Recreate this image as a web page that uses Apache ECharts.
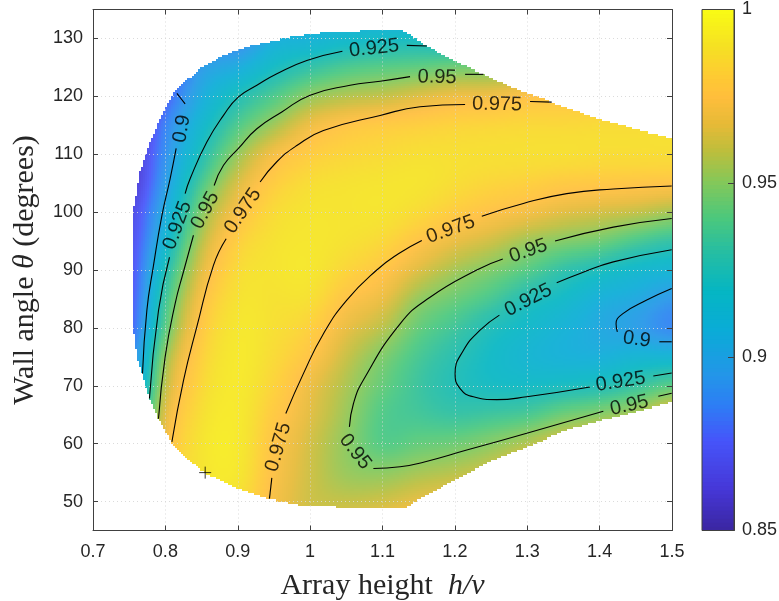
<!DOCTYPE html>
<html><head><meta charset="utf-8">
<style>html,body{margin:0;padding:0;background:#fff}#c{width:779px;height:601px}</style>
<script src="https://cdn.jsdelivr.net/npm/echarts@6/dist/echarts.min.js"></script>
</head><body><div id="c"></div>
<script>
const gridX=[0.75,0.80,0.85,0.90,0.95,1.00,1.05,1.10,1.15,1.20,1.25,1.30,1.35,1.40,1.45,1.50];
const gridY=[135,130,125,120,115,110,105,100,95,90,85,80,75,70,65,60,55,50,45];
// values in thousandths, rows follow gridY, columns follow gridX
const gridValues=[
[850,860,870,870,885,905,905,900,895,890,885,880,880,880,880,880],
[850,860,880,885,905,910,916,919,920,915,910,910,910,910,910,910],
[850,865,895,905,920,930,937,940,942,945,945,948,950,950,950,950],
[850,875,905,924,938,951,957,960,965,969,970,974,975,975,975,975],
[850,885,915,938,954,969,976,979,981,983,984,985,985,986,986,987],
[855,890,925,952,971,980,984,986,988,988,988,988,988,987,987,987],
[857,896,937,964,980,987,989,990,990,987,984,982,979,978,977,976],
[865,904,949,973,986,990,990,990,986,980,975,971,966,963,960,955],
[868,913,958,981,989,991,989,985,976,968,962,954,949,945,937,931],
[870,924,966,986,990,991,984,977,965,955,948,940,930,923,916,912],
[872,933,973,989,989,988,976,968,952,944,936,925,918,908,903,894],
[875,940,978,991,988,982,968,958,943,934,924,917,910,903,897,888],
[885,951,982,992,986,976,961,948,936,927,919,913,909,908,912,912],
[892,958,985,992,983,969,956,943,933,925,921,920,922,925,932,941],
[905,965,988,992,979,966,953,939,935,932,934,937,945,950,957,968],
[915,970,990,992,976,963,951,940,943,945,950,957,965,970,975,980],
[920,975,990,991,974,962,953,951,955,958,963,972,980,982,985,985],
[920,975,990,988,972,962,960,962,967,970,975,980,988,990,992,990],
[920,975,990,985,970,964,970,975,980,980,985,990,990,995,995,990]];
const upperEdgeX=[0.7546,0.7652,0.7790,0.7974,0.8159,0.8481,0.8803,0.9171,0.9724,1.0276,1.1105,1.1243,1.1427,1.1612,1.1980,1.2394,1.2901,1.3338,1.4006,1.4558,1.4996];
const upperEdgeY=[99.2,107,112,117.3,121.3,124.8,127.1,128.8,130.2,131.1,131.4,131.6,130.2,128.7,126.2,123.8,121,119,116,114.1,112.8];
const lowerEdgeX=[0.7546,0.7584,0.7621,0.7684,0.7780,0.7905,0.8090,0.8343,0.8550,0.8988,0.9434,0.9955,1.0276,1.0552,1.1105,1.1289,1.1565,1.2072,1.2532,1.2993,1.3546,1.4006,1.4996];
const lowerEdgeY=[80.8,77.6,74.4,72.2,67.8,64.4,60.2,56.8,54.9,52.3,50.4,49.2,49.2,48.9,48.8,48.8,50.8,54.2,57.1,59.4,62.3,64,67.1];
const contourLines=[
[[0.8159,120.5],[0.8204,119.8],[0.8273,118.7]],
[[0.8149,111.0],[0.8066,105.8],[0.7952,99.4],[0.7836,90.8],[0.7744,83.0],[0.7684,72.1]],
[[1.1612,128.7],[1.1336,128.8]],
[[1.0446,127.8],[0.9954,126.2],[0.9540,123.9],[0.9264,121.9],[0.9010,119.9],[0.8803,116.7],[0.8573,112.1],[0.8343,105.8],[0.8273,103.2]],
[[0.8057,92.2],[0.7905,83.0],[0.7780,67.8]],
[[1.2394,123.8],[1.2141,123.8]],
[[1.1381,123.4],[1.0967,122.6],[1.0552,121.9],[1.0,120.2],[0.9609,117.3],[0.9264,114.4],[0.9010,111.0],[0.8803,108.1],[0.8674,104.6]],
[[0.8388,96.0],[0.8250,89.7],[0.8135,84.2],[0.7997,75.0],[0.7905,64.3]],
[[1.3338,119.0],[1.3039,119.1]],
[[1.2141,118.6],[1.1519,118.2],[1.0967,116.7],[1.0184,114.1],[0.9816,111.5],[0.9540,108.7],[0.9309,105.2]],
[[0.8840,95.4],[0.8664,90.8],[0.8435,80.2],[0.8250,70.9],[0.8090,60.3]],
[[0.9438,50.5],[0.9471,54.1]],
[[0.9664,65.2],[0.9907,72.1],[1.0184,79.0],[1.0507,84.8],[1.0921,90.0],[1.1220,92.8],[1.1543,95.1]],
[[1.2372,99.3],[1.2946,101.5],[1.3546,103.2],[1.4189,104.0],[1.4996,104.5]],
[[1.4996,98.9],[1.4189,97.4],[1.3384,95.0]],
[[1.2662,91.9],[1.2302,90.0],[1.1657,85.3],[1.1243,80.7],[1.0736,71.0],[1.0598,66.9],[1.0543,62.9]],
[[1.0874,55.7],[1.1243,56.0],[1.1565,56.8],[1.2164,58.9],[1.2993,61.8],[1.4051,65.6]],
[[1.4811,68.2],[1.4996,68.7]],
[[1.4996,93.5],[1.4189,91.4],[1.3729,89.4],[1.3407,87.8]],
[[1.2615,82.2],[1.2348,79.6],[1.2117,76.1],[1.2003,72.1],[1.2072,69.5],[1.2256,68.1],[1.2579,67.6],[1.2993,68.1],[1.3867,69.8]],
[[1.4742,71.7],[1.4996,72.2]],
[[1.4996,86.8],[1.4651,84.8],[1.4327,82.5],[1.4227,80.7],[1.4245,79.3]],
[[1.4825,77.6],[1.4996,77.6]]];
const contourLabelText=['0.925','0.95','0.975','0.9','0.925','0.95','0.975','0.975','0.95','0.975','0.95','0.925','0.9','0.925','0.95'];
const contourLabelPos=[[1.0884,128.3],[1.1754,123.3],[1.2583,118.6],[0.8228,114.4],[0.8167,97.7],[0.8550,100.3],[0.9070,100.2],[0.9562,59.4],[1.0622,58.6],[1.1943,97.0],[1.3015,93.3],[1.3015,84.8],[1.4512,78.0],[1.4291,70.7],[1.4410,66.6]];
const contourLabelAngle=[6,-1,-1,80,70,62,56,74,-52,20,19,27,-8,9,12];
const markerPoint=[[0.855,55]];
const yTicks=[50,60,70,80,90,100,110,120,130];
const colorLevels=Array.from({length:128},(_,i)=>0.85+0.15*i/128);
const parula=[[0,58,38,160],[.08,70,55,215],[.174,70,85,250],[.24,45,125,245],[.30,35,150,232],[.385,10,172,215],[.46,5,182,195],[.54,40,190,160],[.60,75,200,125],[.667,130,200,90],[.73,190,190,60],[.78,230,186,55],[.833,255,190,60],[.875,254,203,50],[.93,245,225,35],[1,249,251,20]];
function rgbOf(v){
  let t=Math.max(0,Math.min(1,(v-0.85)/0.15));
  for(let i=1;i<parula.length;i++){
    if(t<=parula[i][0]){
      const a=parula[i-1],b=parula[i],f=(t-a[0])/(b[0]-a[0]);
      return [1,2,3].map(k=>a[k]+(b[k]-a[k])*f);
    }
  }
  return [249,251,20];
}
const css=(c,w)=>'rgb('+c.map(k=>Math.round(k+(255-k)*w)).join(',')+')';
function edgeAt(xs,ys,x){
  if(x<xs[0]||x>xs[xs.length-1]+1e-3)return null;
  for(let i=1;i<xs.length;i++){if(x<=xs[i]){const f=(x-xs[i-1])/(xs[i]-xs[i-1]);return ys[i-1]+(ys[i]-ys[i-1])*f;}}
  return ys[ys.length-1];
}
function cr(p0,p1,p2,p3,t){return 0.5*(2*p1+(p2-p0)*t+(2*p0-5*p1+4*p2-p3)*t*t+(3*p1-p0-3*p2+p3)*t*t*t);}
function shade(col,row,u,v){
  const R=r=>Math.max(0,Math.min(gridY.length-1,r)),C=c=>Math.max(0,Math.min(gridX.length-1,c));
  const rows=[-1,0,1,2].map(d=>{const g=gridValues[R(row+d)];return cr(g[C(col-1)],g[C(col)],g[C(col+1)],g[C(col+2)],u);});
  return cr(rows[0],rows[1],rows[2],rows[3],v)/1000;
}
const cellData=[];
for(let r=0;r<gridY.length-1;r++)for(let c=0;c<gridX.length-1;c++)cellData.push([gridX[c],gridY[r],c,r]);
const SUBX=18,SUBY=14;
function renderCell(params,api){
  const c=api.value(2),r=api.value(3);
  const kids=[];
  const x0=gridX[c],x1=gridX[c+1],y0=gridY[r],y1=gridY[r+1];
  for(let i=0;i<SUBX;i++){
    const u=(i+0.5)/SUBX,xv=x0+(x1-x0)*u;
    const up=edgeAt(upperEdgeX,upperEdgeY,xv),lo=edgeAt(lowerEdgeX,lowerEdgeY,xv);
    if(up===null||lo===null)continue;
    const pa=api.coord([x0+(x1-x0)*i/SUBX,y0]),pb=api.coord([x0+(x1-x0)*(i+1)/SUBX,y0]);
    for(let j=0;j<SUBY;j++){
      const v=(j+0.5)/SUBY,yv=y0+(y1-y0)*v;
      if(yv>up||yv<lo)continue;
      const qa=api.coord([x0,y0+(y1-y0)*j/SUBY]),qb=api.coord([x0,y0+(y1-y0)*(j+1)/SUBY]);
      const L=Math.round(pa[0]),T=Math.round(qa[1]);
      kids.push({type:'rect',shape:{x:L,y:T,width:Math.round(pb[0])-L,height:Math.round(qb[1])-T},style:{fill:css(rgbOf(shade(c,r,u,v)),0.07)}});
    }
  }
  return {type:'group',children:kids,silent:true};
}
function renderBar(params,api){
  const v=api.value(1),a=api.coord([0,v]),b=api.coord([1,v+0.15/128]);
  return {type:'rect',shape:{x:a[0],y:b[1]-0.5,width:b[0]-a[0],height:a[1]-b[1]+1},style:{fill:css(rgbOf(v+0.15/256),0)},silent:true};
}
const SANS='"Liberation Sans",Arial,sans-serif',SERIF='"Liberation Serif",serif';
const lineCol='#404040';
const gridLine={color:'rgba(215,215,215,0.9)',type:[1,3],width:1};
const tickFont={fontFamily:SANS,fontSize:18,color:'#262626'};
const series=[
 {type:'custom',xAxisIndex:0,yAxisIndex:0,z:1,silent:true,animation:false,clip:true,renderItem:renderCell,data:cellData,encode:{x:0,y:1},progressive:0},
 {type:'custom',xAxisIndex:2,yAxisIndex:2,z:1,silent:true,animation:false,renderItem:renderBar,data:colorLevels.map(l=>[0,l]),encode:{x:0,y:1},progressive:0}
];
contourLines.forEach(seg=>series.push({type:'line',xAxisIndex:0,yAxisIndex:0,z:5,data:seg,smooth:0.5,showSymbol:false,symbol:'none',silent:true,animation:false,lineStyle:{color:'#000',width:1.1}}));
series.push({type:'scatter',xAxisIndex:0,yAxisIndex:0,z:6,silent:true,animation:false,symbolSize:0,
 data:contourLabelPos.map((p,i)=>({value:p,label:{show:true,position:'inside',formatter:contourLabelText[i],rotate:contourLabelAngle[i],fontFamily:SANS,fontSize:20,color:'#000',align:'center',verticalAlign:'middle'}}))});
series.push({type:'scatter',xAxisIndex:0,yAxisIndex:0,z:7,silent:true,animation:false,symbol:'path://M0 6H12M6 0V12',symbolSize:12,itemStyle:{color:'none',borderColor:'#000',borderWidth:1},data:markerPoint});
const chart=echarts.init(document.getElementById('c'),null,{renderer:'canvas'});
const title=(s)=>({rich:{a:{fontFamily:SERIF,fontSize:s,color:'#262626'},b:{fontFamily:SERIF,fontSize:s,fontStyle:'italic',color:'#262626'}}});
chart.setOption({
 animation:false,backgroundColor:'#fff',
 grid:[{left:93,top:9.5,width:579,height:521,containLabel:false,outerBoundsMode:'none'},{left:702,top:9.5,width:32,height:521,outerBoundsMode:'none'}],
 xAxis:[
  {type:'value',gridIndex:0,min:0.7,max:1.5,interval:0.1,z:3,position:'bottom',
   axisLine:{onZero:false,lineStyle:{color:lineCol,width:1}},axisTick:{inside:true,length:5,lineStyle:{color:lineCol}},
   axisLabel:{...tickFont,margin:13,formatter:v=>String(+v.toFixed(1))},
   splitLine:{show:true,lineStyle:gridLine},
   name:'{a|Array height  }{b|h/v}',nameLocation:'middle',nameGap:41,nameTextStyle:title(30)},
  {type:'value',gridIndex:0,min:0.7,max:1.5,interval:0.1,z:3,position:'top',axisLine:{onZero:false,lineStyle:{color:lineCol,width:1}},axisTick:{inside:true,length:5,lineStyle:{color:lineCol}},axisLabel:{show:false},splitLine:{show:false}},
  {type:'value',gridIndex:1,min:0,max:1,show:false,splitLine:{show:false}}
 ],
 yAxis:[
  {type:'value',gridIndex:0,min:45,max:135,z:3,position:'left',
   axisLine:{onZero:false,lineStyle:{color:lineCol,width:1}},axisTick:{inside:true,length:5,customValues:yTicks,lineStyle:{color:lineCol}},
   axisLabel:{...tickFont,margin:10,customValues:yTicks},
   splitLine:{show:true,lineStyle:gridLine},
   name:'{a|Wall angle }{b|θ}{a| (degrees)}',nameLocation:'middle',nameGap:53,nameRotate:90,nameTextStyle:title(30)},
  {type:'value',gridIndex:0,min:45,max:135,z:3,position:'right',axisLine:{onZero:false,lineStyle:{color:lineCol,width:1}},axisTick:{inside:true,length:5,customValues:yTicks,lineStyle:{color:lineCol}},axisLabel:{show:false},splitLine:{show:false}},
  {type:'value',gridIndex:1,min:0.85,max:1,interval:0.05,position:'right',z:3,
   axisLine:{show:true,onZero:false,lineStyle:{color:lineCol,width:1}},axisTick:{inside:true,length:6,lineStyle:{color:lineCol}},
   axisLabel:{...tickFont,margin:8,formatter:v=>String(+v.toFixed(2))},splitLine:{show:false}}
 ],
 graphic:[{type:'rect',z:10,shape:{x:702,y:9.5,width:32,height:521},style:{fill:'none',stroke:lineCol,lineWidth:1},silent:true}],
 series
});
</script></body></html>
